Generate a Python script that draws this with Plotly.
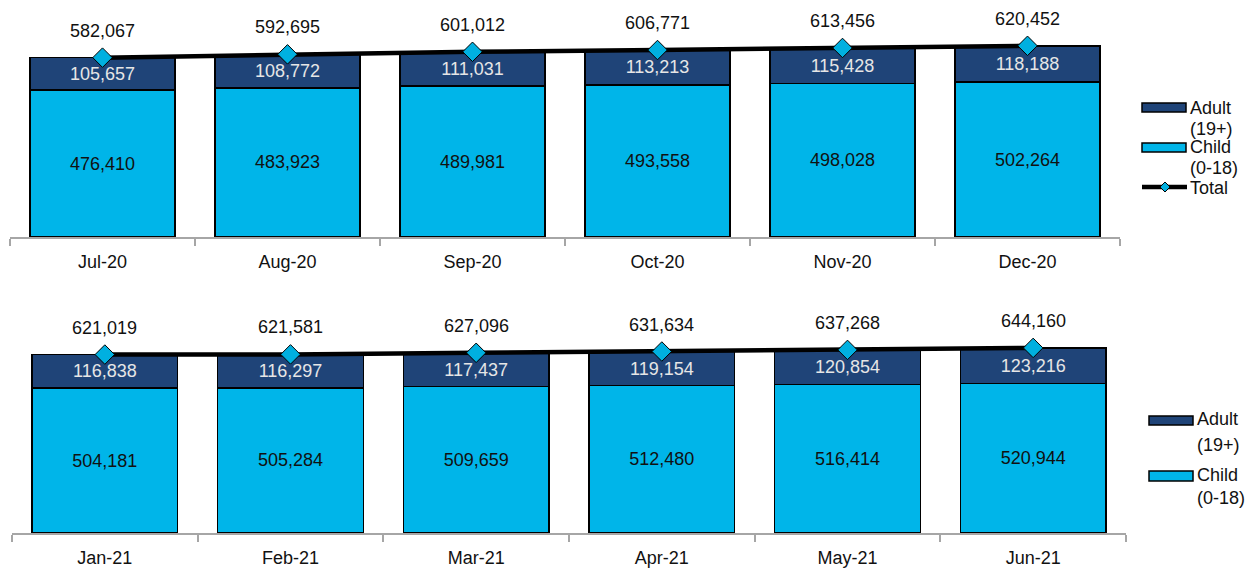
import plotly.graph_objects as go

# ---------------- data ----------------
months_1 = ["Jul-20", "Aug-20", "Sep-20", "Oct-20", "Nov-20", "Dec-20"]
child_1 = [476410, 483923, 489981, 493558, 498028, 502264]
adult_1 = [105657, 108772, 111031, 113213, 115428, 118188]
total_1 = [582067, 592695, 601012, 606771, 613456, 620452]

months_2 = ["Jan-21", "Feb-21", "Mar-21", "Apr-21", "May-21", "Jun-21"]
child_2 = [504181, 505284, 509659, 512480, 516414, 520944]
adult_2 = [116838, 116297, 117437, 119154, 120854, 123216]
total_2 = [621019, 621581, 627096, 631634, 637268, 644160]

legend_adult = "Adult<br>(19+)"
legend_child = "Child<br>(0-18)"
legend_total = "Total"

# ---------------- style ----------------
W, H = 1253, 569
C_ADULT = "#1F4478"
C_CHILD = "#00B5E9"
C_MARK = "#00B0E0"
FONT = "Liberation Sans, Arial, sans-serif"
FS = 18


def px(x):
    return x / W


def py(y):
    return 1 - y / H


fig = go.Figure()

panels = [
    (months_1, child_1, adult_1, total_1, "x", "y"),
    (months_2, child_2, adult_2, total_2, "x2", "y2"),
]

annotations = []
for months, child, adult, total, xa, ya in panels:
    fig.add_trace(go.Bar(
        x=months, y=child, xaxis=xa, yaxis=ya,
        marker=dict(color=C_CHILD, line=dict(color="black", width=1.5)),
        texttemplate="%{y:,}", textposition="inside", insidetextanchor="middle",
        textfont=dict(color="#111111", size=FS, family=FONT),
        showlegend=False, hoverinfo="skip",
    ))
    fig.add_trace(go.Bar(
        x=months, y=adult, xaxis=xa, yaxis=ya,
        marker=dict(color=C_ADULT, line=dict(color="black", width=1.5)),
        texttemplate="%{y:,}", textposition="inside", insidetextanchor="middle",
        textfont=dict(color="#E6E6E6", size=FS, family=FONT),
        showlegend=False, hoverinfo="skip",
    ))
    fig.add_trace(go.Scatter(
        x=months, y=total, xaxis=xa, yaxis=ya, mode="lines+markers",
        line=dict(color="black", width=4.5),
        marker=dict(symbol="diamond", size=15, color=C_MARK,
                    line=dict(color="black", width=1)),
        showlegend=False, hoverinfo="skip",
    ))
    for m, t in zip(months, total):
        annotations.append(dict(
            x=m, y=t, xref=xa, yref=ya, text=f"{t:,}", showarrow=False,
            yshift=27, yanchor="middle",
            font=dict(size=FS, color="#111111", family=FONT),
        ))

# ---------------- manual legends ----------------
shapes = []


def leg_rect(x0, x1, y0, y1, color):
    shapes.append(dict(type="rect", xref="paper", yref="paper",
                       x0=px(x0), x1=px(x1), y0=py(y1), y1=py(y0),
                       fillcolor=color, line=dict(color="black", width=1.5)))


def leg_text(x, y, text):
    annotations.append(dict(x=px(x), y=py(y), xref="paper", yref="paper",
                            text=text, showarrow=False, xanchor="left",
                            yanchor="middle",
                            font=dict(size=FS, color="#111111", family=FONT)))


# top legend
leg_rect(1142, 1186, 103, 112, C_ADULT)
leg_text(1188, 108, legend_adult.split("<br>")[0])
leg_text(1188, 129, legend_adult.split("<br>")[1])
leg_rect(1142, 1186, 143, 152, C_CHILD)
leg_text(1188, 147, legend_child.split("<br>")[0])
leg_text(1188, 168, legend_child.split("<br>")[1])
shapes.append(dict(type="line", xref="paper", yref="paper",
                   x0=px(1142), x1=px(1187), y0=py(187), y1=py(187),
                   line=dict(color="black", width=4.5)))
cx, cy, r = 1165, 187, 5
shapes.append(dict(type="path", xref="paper", yref="paper",
                   path=f"M {px(cx)},{py(cy - r)} L {px(cx + r)},{py(cy)} "
                        f"L {px(cx)},{py(cy + r)} L {px(cx - r)},{py(cy)} Z",
                   fillcolor=C_MARK, line=dict(color="black", width=1)))
leg_text(1188, 188, legend_total)

# bottom legend
leg_rect(1149, 1193, 416, 425, C_ADULT)
leg_text(1195, 419, legend_adult.split("<br>")[0])
leg_text(1195, 445, legend_adult.split("<br>")[1])
leg_rect(1149, 1193, 471, 481, C_CHILD)
leg_text(1195, 475, legend_child.split("<br>")[0])
leg_text(1195, 498, legend_child.split("<br>")[1])

xaxis_common = dict(
    type="category", showline=True, linecolor="#A6A6A6", linewidth=1.5,
    ticks="outside", tickson="boundaries", ticklen=7, tickcolor="#A6A6A6",
    tickwidth=1.5, showgrid=False, zeroline=False, automargin=False,
    tickfont=dict(size=FS, color="#111111", family=FONT),
    ticklabelstandoff=8,
)
yaxis_common = dict(visible=False, showgrid=False, zeroline=False,
                    automargin=False)

fig.update_layout(
    width=W, height=H, margin=dict(l=0, r=0, t=0, b=0),
    paper_bgcolor="white", plot_bgcolor="white",
    barmode="stack", bargap=0.216,
    xaxis=dict(domain=[px(10), px(1120)], anchor="y", **xaxis_common),
    yaxis=dict(domain=[py(237), py(10)], range=[0, 227 * 3245],
               anchor="x", **yaxis_common),
    xaxis2=dict(domain=[px(12), px(1126)], anchor="y2", **xaxis_common),
    yaxis2=dict(domain=[py(533), py(300)], range=[0, 233 * 3480],
                anchor="x2", **yaxis_common),
    annotations=annotations, shapes=shapes,
    font=dict(family=FONT, size=FS, color="#111111"),
)

fig.write_html(
    "out.html",
    config={"displayModeBar": False},
    post_script="document.body.style.margin='0';"
                "document.body.style.overflow='hidden';",
)
